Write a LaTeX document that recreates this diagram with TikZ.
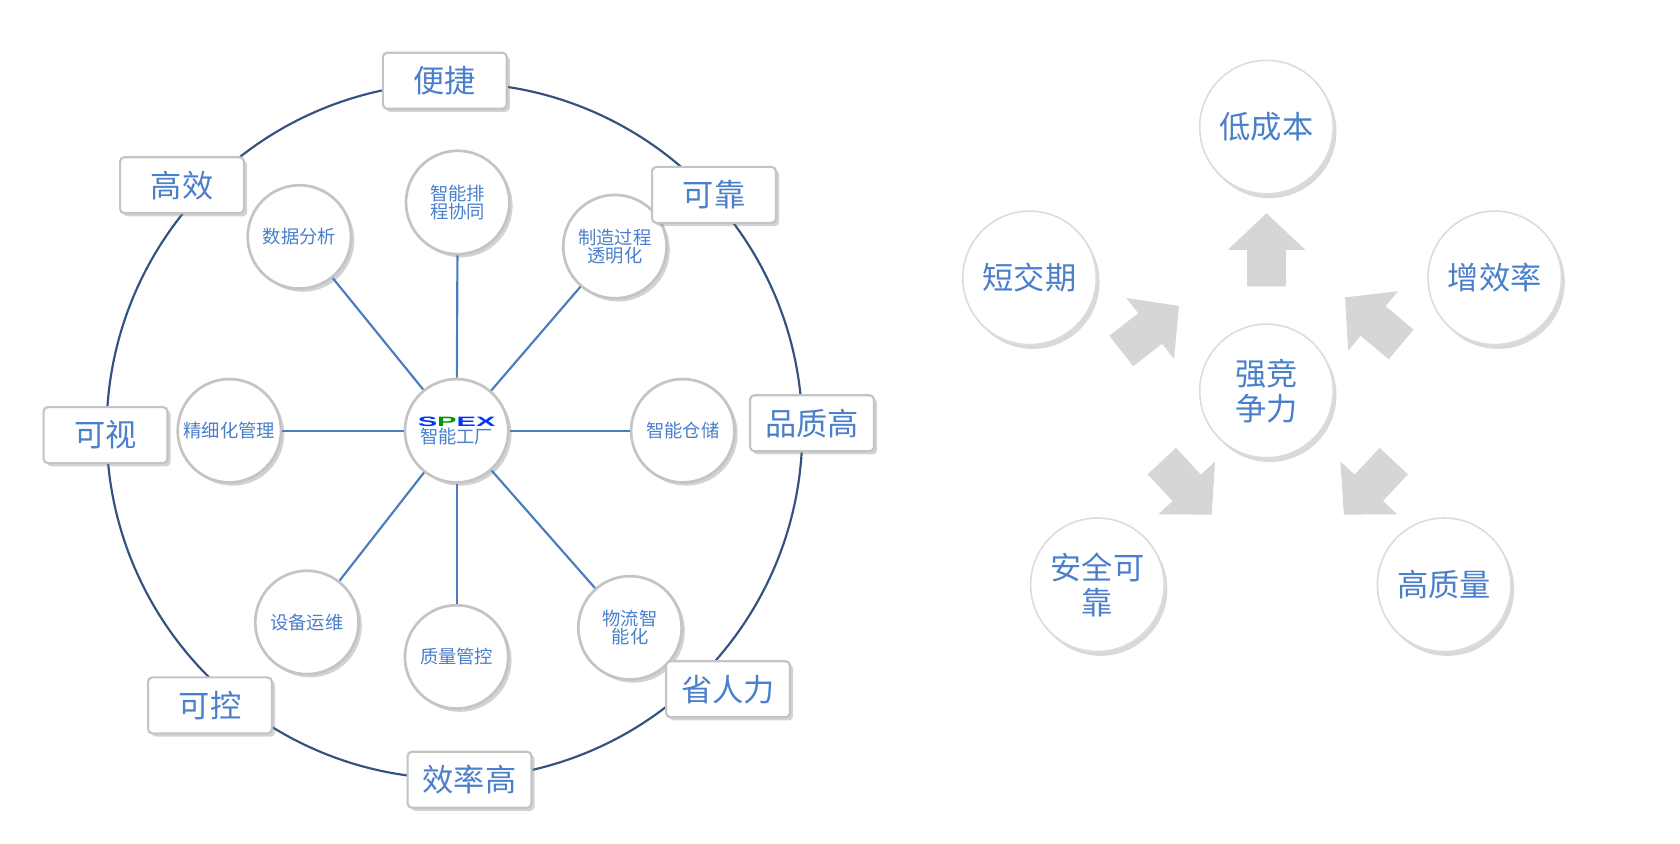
\documentclass[tikz,border=0pt]{standalone}
\usepackage{fontspec}
\newfontfamily\cjk{Noto Sans CJK SC}
\newfontfamily\lat{Liberation Sans}
\usetikzlibrary{shadows}
\definecolor{tb}{HTML}{4A7FCB}
\definecolor{lb}{HTML}{4A7DBF}
\definecolor{rc}{HTML}{33527F}
\definecolor{gb}{HTML}{C4C4C4}
\begin{document}
\begin{tikzpicture}[x=1pt,y=-1pt,
 sat/.style={circle,draw=gb,line width=2.5pt,fill=white,minimum size=96pt,inner sep=0pt,align=center,text=tb,font=\cjk\fontsize{17}{20}\selectfont,drop shadow={shadow xshift=3pt,shadow yshift=-3pt,opacity=0.35}},
 big/.style={circle,draw=gb!60,line width=1.5pt,fill=white,minimum size=124pt,inner sep=0pt,align=center,text=tb,font=\cjk\fontsize{29}{36}\selectfont,drop shadow={shadow xshift=3pt,shadow yshift=-4pt,opacity=0.3}},
 lab/.style={rectangle,rounded corners=4pt,draw=gb,line width=2pt,fill=white,minimum width=115pt,minimum height=52pt,text=tb,font=\cjk\fontsize{29}{32}\selectfont,drop shadow={shadow xshift=3pt,shadow yshift=-3pt,opacity=0.35}},
 spoke/.style={draw=lb,line width=2pt},
 barrow/.style={fill=gb!70,draw=none}]
\useasboundingbox (0,0) rectangle (1560,783);
\draw[rc,line width=2pt] (422,400) circle (323);
\node[sat] (c) at (424,400) {{\lat\bfseries\fontsize{18}{18}\selectfont\scalebox{1.5}[0.7]{\textcolor{blue!80!cyan}{S}\textcolor{green!60!black}{P}\textcolor{blue!80!cyan}{EX}}}\\[-4pt]智能工厂};
\node[sat] (s1) at (278,220) {数据分析};
\node[sat] (s2) at (425,188) {智能排\\[-3pt]程协同};
\node[sat] (s3) at (571,229) {制造过程\\[-3pt]透明化};
\node[sat] (s4) at (634,400) {智能仓储};
\node[sat] (s5) at (585,583) {物流智\\[-3pt]能化};
\node[sat] (s6) at (424,610) {质量管控};
\node[sat] (s7) at (285,578) {设备运维};
\node[sat] (s8) at (213,400) {精细化管理};
\begin{scope}[on background layer/.try]
\end{scope}
\foreach \s in {s1,s2,s3,s4,s5,s6,s7,s8}{\draw[spoke] (c) -- (\s);}
\node[lab] (l1) at (413,75) {便捷};
\node[lab] (l2) at (169,172) {高效};
\node[lab] (l3) at (663,181) {可靠};
\node[lab] (l4) at (754,393) {品质高};
\node[lab] (l5) at (98,404) {可视};
\node[lab] (l6) at (195,655) {可控};
\node[lab] (l7) at (436,724) {效率高};
\node[lab] (l8) at (676,640) {省人力};
% right
\node[big] (r0) at (1176,363) {强竞\\[-4pt]争力};
\node[big] (r1) at (1176,118) {低成本};
\node[big] (r2) at (956,258) {短交期};
\node[big] (r3) at (1388,258) {增效率};
\node[big] (r4) at (1019,543) {安全可\\[-4pt]靠};
\node[big] (r5) at (1341,543) {高质量};
\foreach \x/\y/\a in {1176/232/0, 1068/305/-52, 1275/298/50, 1102/453/-137, 1271/453/137}{
 \fill[barrow,shift={(\x,\y)},rotate=\a] (-18,34) -- (-18,0) -- (-36,0) -- (0,-34) -- (36,0) -- (18,0) -- (18,34) -- cycle;}
\end{tikzpicture}
\end{document}
